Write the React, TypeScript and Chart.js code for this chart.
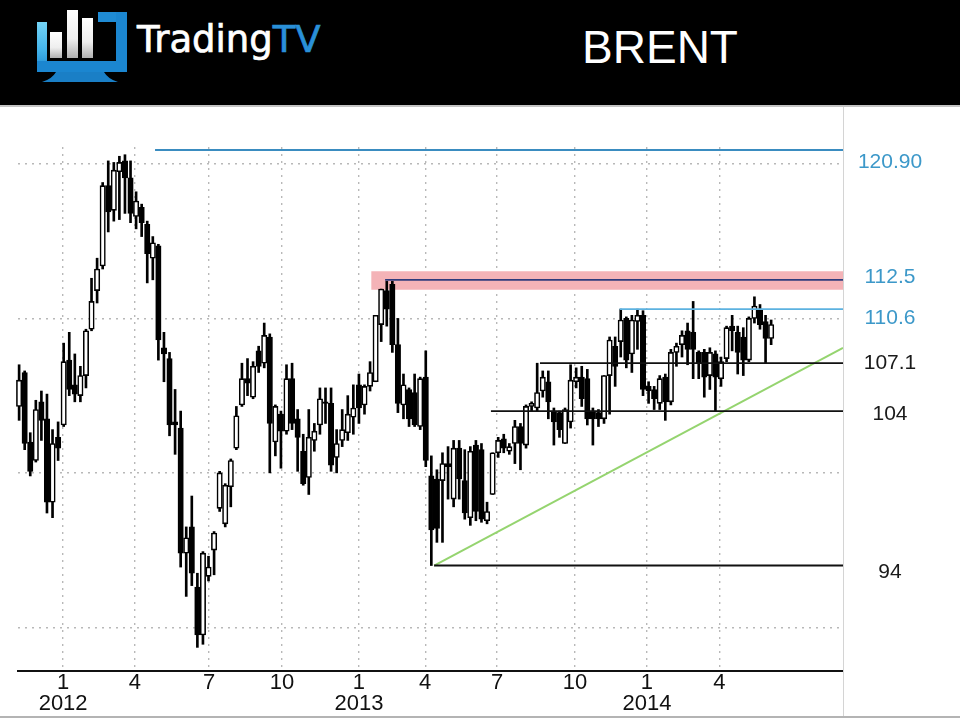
import React, { useEffect, useRef } from "react";
import { Chart, registerables } from "chart.js";

Chart.register(...registerables);

// ---- weekly OHLC (week 1 = early Nov 2011) ----
const opens = [
  104.3, 106.5, 102.0, 100.8, 104.6, 103.5, 98.1, 102.3, 103.1, 107.3,
  105.7, 105.0, 106.3, 109.3, 111.8, 113.4, 118.6, 117.0, 119.5, 120.2,
  119.1, 116.6, 117.2, 116.1, 113.9, 114.7, 108.1, 107.4, 103.3, 102.9,
  94.8, 96.5, 92.6, 89.5, 93.3, 95.0, 97.7, 96.7, 99.1, 101.6,
  104.4, 106.1, 104.9, 107.9, 107.1, 108.8, 102.0, 103.8, 102.7, 106.1,
  103.5, 101.4, 99.7, 102.1, 103.1, 104.6, 104.5, 101.0, 102.1, 102.6,
  103.6, 105.7, 104.4, 105.6, 105.9, 109.6, 111.8, 112.2, 108.3, 104.4,
  105.4, 105.2, 103.0, 106.2, 99.8, 99.6, 99.5, 100.6, 98.3, 101.6,
  99.5, 97.1, 101.8, 101.5, 96.9, 98.6, 101.3, 102.2, 101.4, 101.9,
  103.0, 101.8, 104.3, 104.2, 105.3, 105.9, 104.0, 103.9, 101.9, 103.3,
  105.9, 106.2, 106.1, 104.0, 103.9, 103.5, 106.3, 108.2, 108.5, 110.0,
  107.7, 109.8, 110.2, 105.6, 105.4, 104.5, 106.2, 104.6, 107.8, 108.3,
  109.2, 109.1, 107.8, 107.8, 106.3, 107.7, 106.1, 107.4, 109.5, 109.1,
  108.8, 107.3, 110.0, 110.6, 109.8, 108.7,
];
const highs = [
  107.0, 106.6, 102.6, 104.7, 105.3, 105.1, 102.8, 103.3, 108.4, 109.1,
  107.7, 106.9, 109.3, 112.6, 113.9, 118.8, 120.2, 120.1, 120.5, 120.6,
  120.2, 118.2, 117.4, 116.3, 115.3, 114.8, 109.1, 107.8, 105.4, 104.0,
  96.5, 98.5, 93.5, 94.9, 94.6, 96.2, 100.1, 99.3, 100.9, 104.3,
  107.1, 107.4, 107.2, 108.2, 109.7, 109.0, 104.4, 104.0, 107.0, 107.1,
  104.1, 102.5, 104.1, 103.2, 105.5, 105.5, 105.5, 102.8, 104.1, 105.0,
  105.7, 106.4, 105.7, 107.2, 110.2, 111.9, 112.4, 112.4, 110.0, 106.4,
  105.5, 106.4, 106.2, 107.9, 101.1, 100.2, 101.3, 101.7, 102.1, 102.1,
  101.5, 101.7, 102.1, 101.9, 98.1, 101.3, 102.3, 102.5, 101.9, 103.4,
  103.2, 104.4, 104.6, 107.1, 106.6, 106.6, 104.2, 104.0, 104.2, 107.0,
  106.8, 106.9, 106.7, 104.2, 104.1, 106.3, 108.8, 108.8, 110.6, 110.1,
  110.2, 110.6, 110.5, 105.9, 105.6, 106.3, 106.4, 108.0, 108.4, 109.2,
  109.7, 111.1, 107.9, 108.0, 108.1, 107.9, 107.5, 109.5, 110.2, 109.5,
  109.4, 110.1, 111.4, 110.9, 110.2, 109.9,
];
const lows = [
  103.4, 101.5, 99.8, 100.7, 102.1, 97.4, 97.1, 100.8, 103.0, 105.0,
  104.6, 104.6, 105.5, 109.2, 111.0, 113.2, 115.6, 116.3, 116.4, 116.8,
  116.2, 115.8, 115.3, 112.3, 112.5, 107.3, 105.9, 102.4, 101.2, 93.9,
  92.0, 92.7, 88.7, 88.9, 93.0, 93.4, 97.5, 96.5, 97.8, 101.5,
  104.3, 105.0, 104.8, 106.5, 106.8, 100.0, 101.1, 100.3, 102.5, 102.8,
  100.1, 99.2, 98.6, 101.4, 102.5, 103.2, 100.1, 100.0, 101.7, 102.1,
  102.5, 103.2, 103.8, 105.3, 105.9, 108.5, 109.5, 107.8, 103.9, 103.5,
  103.0, 103.0, 102.8, 100.4, 94.0, 95.5, 95.5, 98.3, 97.8, 98.3,
  97.0, 96.6, 96.9, 96.8, 96.7, 98.6, 101.0, 101.3, 101.2, 100.6,
  100.2, 101.6, 104.0, 104.0, 104.9, 103.5, 101.8, 102.3, 101.9, 102.9,
  105.5, 104.3, 103.1, 101.8, 103.0, 103.2, 103.8, 105.6, 107.5, 106.8,
  106.5, 108.0, 105.0, 104.5, 104.1, 104.1, 103.4, 104.4, 106.9, 107.5,
  107.0, 106.1, 106.1, 104.9, 105.4, 104.0, 105.6, 107.2, 107.9, 106.4,
  106.3, 107.2, 109.7, 109.3, 107.1, 108.3,
];
const closes = [
  106.0, 101.9, 100.1, 104.1, 103.4, 98.1, 101.9, 101.6, 107.2, 105.4,
  105.1, 106.3, 109.2, 111.1, 113.2, 118.6, 116.9, 119.6, 120.1, 119.1,
  116.8, 117.6, 116.2, 114.2, 114.9, 108.6, 107.7, 103.1, 103.1, 94.8,
  95.8, 93.5, 89.5, 94.8, 93.9, 96.1, 100.0, 99.2, 100.8, 103.7,
  106.1, 105.8, 106.9, 106.9, 108.9, 103.2, 104.3, 102.7, 106.1, 103.2,
  102.3, 99.3, 102.3, 102.7, 104.8, 104.5, 100.5, 101.9, 102.8, 103.8,
  104.2, 104.2, 105.6, 106.5, 110.2, 111.9, 110.6, 108.3, 104.5, 105.7,
  103.5, 103.1, 106.1, 100.8, 96.3, 96.4, 100.6, 100.4, 101.6, 99.6,
  97.4, 101.4, 97.5, 97.0, 97.5, 101.3, 102.1, 101.6, 101.7, 103.0,
  101.9, 104.3, 104.5, 105.2, 106.2, 104.6, 103.3, 102.8, 104.1, 106.0,
  106.2, 104.8, 103.5, 103.5, 103.5, 106.3, 108.6, 106.9, 109.9, 107.3,
  109.9, 110.2, 105.4, 105.3, 104.8, 106.1, 104.6, 107.8, 108.2, 108.9,
  108.0, 108.0, 107.1, 106.2, 107.8, 106.2, 107.2, 109.4, 109.2, 107.8,
  107.3, 110.0, 110.8, 109.6, 108.7, 109.6,
];

// ---- time axis (week index positions of month starts) ----
const monthTickPos = [8.9, 21.8, 35.1, 48.2, 62.0, 73.9, 86.8, 100.8, 113.7, 126.7];
const monthTickLabels = ["1", "4", "7", "10", "1", "4", "7", "10", "1", "4"];
const yearLabels = ["2012", "", "", "", "2013", "", "", "", "2014", ""];
const xMin = 0.8;
const xMax = 148.9;

// ---- price axis ----
const yMin = 87.17;
const yMax = 121.1;
const gridValues = [90, 100, 110, 120];

// ---- levels ----
const levelValues = [120.9, 112.5, 110.6, 107.1, 104, 94];
const levelLabels = ["120.90", "112.5", "110.6", "107.1", "104", "94"];
const levelStart = [25.4, 66.7, 108.8, 94.5, 85.7, 75.5];
const bandLow = 111.85;
const bandHigh = 113.05;
const bandStart = 64.2;
const trendStart = { x: 75.5, y: 94 };
const trendEnd = { x: 148.9, y: 108.1 };

const levelLineColors = ["#3a8cc0", "#2e3b7c", "#5cb2e0", "#111111", "#111111", "#111111"];
const levelLabelColors = ["#3c98c9", "#3c98c9", "#3c98c9", "#1a1a1a", "#1a1a1a", "#1a1a1a"];

const FONT = '"Liberation Sans", Arial, Helvetica, sans-serif';

const overlayPlugin = {
  id: "overlay",
  afterDraw(chart: any) {
    const { ctx, chartArea, scales } = chart;
    const y = scales.y;
    const nudge = [12, -3, 9, 0, 3, 7];
    ctx.save();
    ctx.strokeStyle = "#d4d4d4";
    ctx.lineWidth = 1;
    ctx.beginPath();
    ctx.moveTo(chartArea.right + 0.5, 0);
    ctx.lineTo(chartArea.right + 0.5, chart.height);
    ctx.stroke();
    ctx.font = "21px " + FONT;
    ctx.textAlign = "center";
    ctx.textBaseline = "middle";
    levelValues.forEach((v, i) => {
      ctx.fillStyle = levelLabelColors[i];
      ctx.fillText(levelLabels[i], chartArea.right + 47, y.getPixelForValue(v) + nudge[i]);
    });
    ctx.restore();
  },
};

export default function App() {
  const ref = useRef<HTMLCanvasElement>(null);

  useEffect(() => {
    document.body.style.margin = "0";
    const idx = closes.map((_, i) => i + 1);
    const wickData = idx.map((x, i) => ({ x, y: [lows[i], highs[i]] }));
    const bodyData = idx.map((x, i) => ({ x, y: [opens[i], closes[i]] }));

    const levelSets = levelValues.map((v, i) => ({
      type: "line" as const,
      data: [
        { x: levelStart[i], y: v },
        { x: xMax, y: v },
      ],
      borderColor: levelLineColors[i],
      borderWidth: i === 0 ? 2 : 1.8,
      pointRadius: 0,
      fill: false,
      order: i === 1 ? 0 : 1,
      clip: false as any,
    }));

    const chart = new Chart(ref.current as HTMLCanvasElement, {
      type: "bar",
      data: {
        datasets: [
          {
            type: "line",
            data: [
              { x: bandStart, y: bandLow },
              { x: xMax + 0.6, y: bandLow },
            ],
            borderWidth: 0,
            borderColor: "rgba(0,0,0,0)",
            backgroundColor: "#f4b3b7",
            pointRadius: 0,
            fill: { value: bandHigh },
            order: 10,
            clip: false,
          } as any,
          {
            type: "bar",
            data: wickData as any,
            backgroundColor: "#000",
            borderWidth: 0,
            barThickness: 2,
            grouped: false,
            order: 3,
            clip: false,
          } as any,
          {
            type: "bar",
            data: bodyData as any,
            backgroundColor: (c: any) =>
              closes[c.dataIndex] >= opens[c.dataIndex] ? "#ffffff" : "#000000",
            borderColor: "#000",
            borderWidth: 1.6,
            borderSkipped: false,
            barThickness: 5.4,
            grouped: false,
            order: 2,
            clip: false,
          } as any,
          ...(levelSets as any[]),
          {
            type: "line",
            data: [trendStart, trendEnd],
            borderColor: "#95d46f",
            borderWidth: 2,
            pointRadius: 0,
            fill: false,
            order: 1,
            clip: false,
          } as any,
        ],
      },
      options: {
        animation: false,
        responsive: true,
        maintainAspectRatio: false,
        events: [],
        layout: { padding: { left: 18, top: 40, right: 0, bottom: 0 } },
        plugins: {
          legend: { display: false },
          tooltip: { enabled: false },
          title: { display: false },
        },
        scales: {
          x: {
            type: "linear",
            min: xMin,
            max: xMax,
            offset: false,
            afterBuildTicks: (scale: any) => {
              scale.ticks = monthTickPos.map((v) => ({ value: v }));
            },
            afterFit: (scale: any) => {
              scale.height = 45;
            },
            grid: {
              display: true,
              offset: false,
              color: "#b8b8b8",
              lineWidth: 1.4,
              drawTicks: false,
            },
            border: { display: true, color: "#111", width: 2, dash: [2, 5] },
            ticks: {
              autoSkip: false,
              maxRotation: 0,
              minRotation: 0,
              padding: 1.5,
              color: "#111",
              font: { family: FONT, size: 22, lineHeight: 0.96 },
              callback: (_v: any, i: number) =>
                yearLabels[i] ? [monthTickLabels[i], yearLabels[i]] : monthTickLabels[i],
            },
          },
          y: {
            type: "linear",
            position: "right",
            min: yMin,
            max: yMax,
            beginAtZero: false,
            afterBuildTicks: (scale: any) => {
              scale.ticks = gridValues.map((v) => ({ value: v }));
            },
            afterFit: (scale: any) => {
              scale.width = 117;
            },
            grid: {
              display: true,
              color: "#b8b8b8",
              lineWidth: 1.4,
              drawTicks: false,
            },
            border: { display: false, dash: [2, 5] },
            ticks: { display: false },
          },
        },
      } as any,
      plugins: [overlayPlugin],
    });
    return () => chart.destroy();
  }, []);

  return (
    <div
      style={{
        position: "relative",
        width: 960,
        height: 720,
        background: "#fff",
        overflow: "hidden",
        fontFamily: FONT,
      }}
    >
      <div
        style={{
          position: "absolute",
          left: 0,
          top: 0,
          width: 960,
          height: 105,
          background: "#000",
          borderBottom: "2px solid #c4c4c4",
        }}
      >
        <svg width="140" height="100" viewBox="0 0 140 100" style={{ position: "absolute", left: 0, top: 0 }}>
          <defs>
            <linearGradient id="lbar" x1="0" y1="0" x2="0" y2="1">
              <stop offset="0" stopColor="#74d4f6" />
              <stop offset="0.55" stopColor="#44b4ea" />
              <stop offset="1" stopColor="#1c86d0" />
            </linearGradient>
            <linearGradient id="wbar" x1="0" y1="0" x2="0" y2="1">
              <stop offset="0" stopColor="#ffffff" />
              <stop offset="0.6" stopColor="#eeeeee" />
              <stop offset="1" stopColor="#b0b0b0" />
            </linearGradient>
          </defs>
          <rect x="37" y="22" width="10" height="50" fill="url(#lbar)" />
          <rect x="37" y="61" width="90" height="11" fill="#1b86d0" />
          <rect x="98" y="12" width="29" height="10" fill="#1f8bd4" />
          <rect x="116" y="12" width="11" height="60" fill="#1b86d0" />
          <path d="M56 72 L104 72 Q108 79 118 82 L42 82 Q52 79 56 72 Z" fill="#1a7fc6" />
          <rect x="50" y="32" width="12" height="26" fill="url(#wbar)" />
          <rect x="67" y="10" width="11" height="48" fill="url(#wbar)" />
          <rect x="82" y="18" width="11" height="40" fill="url(#wbar)" />
        </svg>
        <div
          style={{
            position: "absolute",
            left: 137,
            top: 23,
            fontFamily: '"DejaVu Sans", "Open Sans", sans-serif',
            fontWeight: 400,
            fontSize: 37,
            lineHeight: "34px",
            WebkitTextStroke: "0.7px currentColor",
            color: "#fff",
            whiteSpace: "nowrap",
          }}
        >
          Trading<span style={{ color: "#2a90d8" }}>TV</span>
        </div>
        <div
          style={{
            position: "absolute",
            left: 560,
            top: 24,
            width: 200,
            textAlign: "center",
            fontSize: 46,
            lineHeight: "46px",
            color: "#fff",
            fontFamily: FONT,
          }}
        >
          BRENT
        </div>
      </div>
      <div style={{ position: "absolute", left: 0, top: 107, width: 960, height: 609 }}>
        <canvas ref={ref} />
      </div>
      <div style={{ position: "absolute", left: 0, top: 716, width: 960, height: 2, background: "#b4b4b4" }} />
    </div>
  );
}
